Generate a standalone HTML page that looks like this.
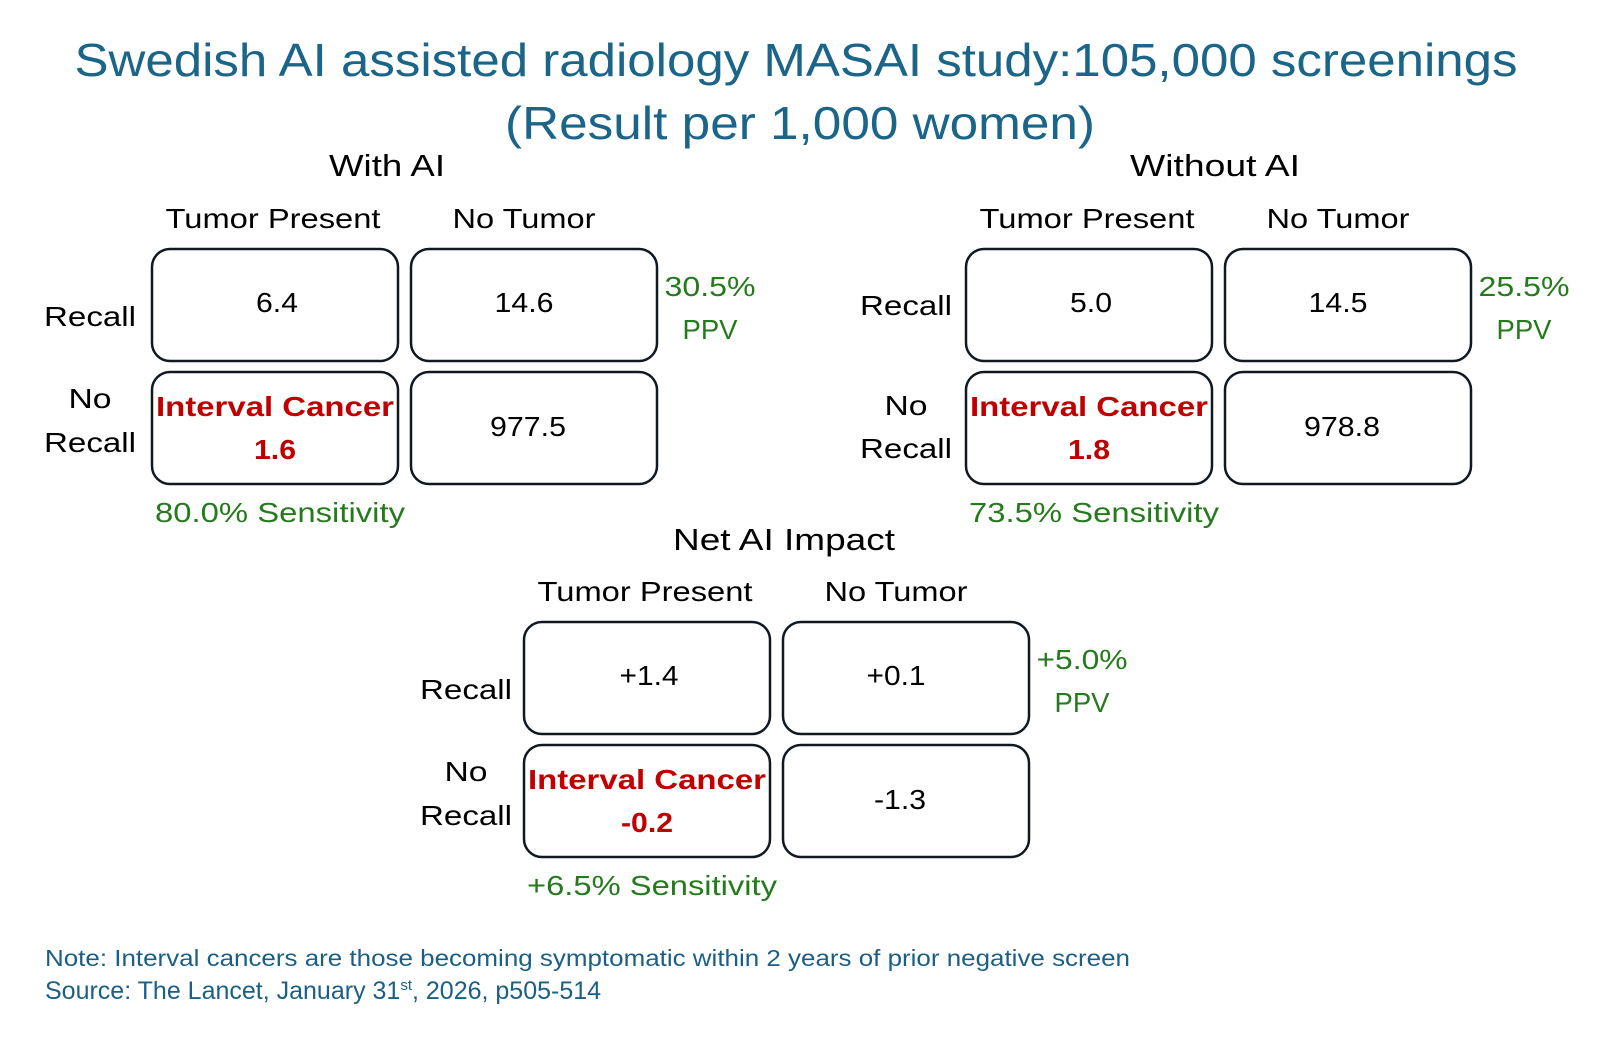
<!DOCTYPE html>
<html><head><meta charset="utf-8"><style>
html,body{margin:0;padding:0;background:#fff;}
svg{display:block;font-family:"Liberation Sans",sans-serif;}
</style></head><body>
<svg id="chart" width="1600" height="1041" viewBox="0 0 1600 1041" xmlns="http://www.w3.org/2000/svg">
<text x="796" y="76" text-anchor="middle" font-size="46" fill="#1b6588" textLength="1443" lengthAdjust="spacingAndGlyphs">Swedish AI assisted radiology MASAI study:105,000 screenings</text>
<text x="800" y="139" text-anchor="middle" font-size="46" fill="#1b6588" textLength="590" lengthAdjust="spacingAndGlyphs">(Result per 1,000 women)</text>
<text x="45" y="966" font-size="23" fill="#1b5f85" textLength="1085" lengthAdjust="spacingAndGlyphs">Note: Interval cancers are those becoming symptomatic within 2 years of prior negative screen</text>
<text x="45" y="999" font-size="25" fill="#1b5f85">Source: The Lancet, January 31<tspan font-size="15" dy="-9">st</tspan><tspan dy="9">, 2026, p505-514</tspan></text>
</svg>
<script>
const panelTitles = ["With AI", "Without AI", "Net AI Impact"];
const truePositives = ["6.4", "5.0", "+1.4"];
const falsePositives = ["14.6", "14.5", "+0.1"];
const intervalCancers = ["1.6", "1.8", "-0.2"];
const trueNegatives = ["977.5", "978.8", "-1.3"];
const ppvLabels = ["30.5%", "25.5%", "+5.0%"];
const sensitivityLabels = ["80.0% Sensitivity", "73.5% Sensitivity", "+6.5% Sensitivity"];

const layout = [
  {x:152, y:249, title:[387,176], label:[90]},
  {x:966, y:249, title:[1215,176], label:[906]},
  {x:524, y:622, title:[784,550], label:[466]}
];
const titleW=[116,170,222];
const BW=246, BH=112, GAPX=13, GAPY=11;
const svg=document.getElementById('chart');
const NS='http://www.w3.org/2000/svg';
function numW(s){let w=0;for(const ch of s){w+= (ch==='.')?8:(ch==='-')?10:(ch==='%')?24:17;}return w;}
function txt(x,y,s,size,fill,name,weight,len){
  const t=document.createElementNS(NS,'text');
  t.setAttribute('x',x);t.setAttribute('y',y);t.setAttribute('text-anchor','middle');
  t.setAttribute('font-size',size);t.setAttribute('fill',fill);
  if(weight)t.setAttribute('font-weight',weight);
  if(len){t.setAttribute('textLength',len);t.setAttribute('lengthAdjust','spacingAndGlyphs');}
  
  
  t.textContent=s;svg.appendChild(t);return t;
}
function box(x,y,name){
  const r=document.createElementNS(NS,'rect');
  r.setAttribute('x',x);r.setAttribute('y',y);r.setAttribute('width',BW);r.setAttribute('height',BH);
  r.setAttribute('rx',18);r.setAttribute('fill','#fff');r.setAttribute('stroke','#111820');r.setAttribute('stroke-width',2.5);
  
  
  svg.appendChild(r);
}
panelTitles.forEach((title,i)=>{
  const L=layout[i], x0=L.x, y0=L.y, x1=x0+BW+GAPX, y1=y0+BH+GAPY;
  const c0=x0+BW/2, c1=x1+BW/2;
  txt(L.title[0],L.title[1],title,31,'#000','panel-title',null,titleW[i]);
  txt(c0-2,y0-21,'Tumor Present',28,'#000','column-header-tumor-present',null,215);
  txt(c1-10,y0-21,'No Tumor',28,'#000','column-header-no-tumor',null,143);
  const lx=L.label[0];
  txt(lx,y0+ (i===1?66:77),'Recall',28,'#000','row-label-recall',null,92);
  txt(lx,y1+ (i===1?43:36),'No',28,'#000','row-label-no-recall',null,43);
  txt(lx,y1+ (i===1?86:80),'Recall',28,'#000','row-label-no-recall',null,92);
  box(x0,y0,'cell-true-positive');box(x1,y0,'cell-false-positive');
  box(x0,y1,'cell-interval-cancer');box(x1,y1,'cell-true-negative');
  txt(c0+2,y0+63,truePositives[i],28,'#000','value-true-positive',null,numW(truePositives[i]));
  txt(c1-10,y0+63,falsePositives[i],28,'#000','value-false-positive',null,numW(falsePositives[i]));
  txt(c0,y1+44,'Interval Cancer',28,'#c00000','interval-cancer-label','bold',238);
  txt(c0,y1+87,intervalCancers[i],28,'#c00000','value-interval-cancer','bold',numW(intervalCancers[i]));
  txt(c1-6,y1+64,trueNegatives[i],28,'#000','value-true-negative',null,numW(trueNegatives[i]));
  const px=x1+BW+53;
  txt(px,y0+47,ppvLabels[i],28,'#267a1e','ppv-value',null,numW(ppvLabels[i])+8);
  txt(px,y0+90,'PPV',28,'#267a1e','ppv-label',null,55);
  txt(c0+5,y1+BH+38,sensitivityLabels[i],28,'#267a1e','sensitivity-label',null,250);
});
</script>
</body></html>
